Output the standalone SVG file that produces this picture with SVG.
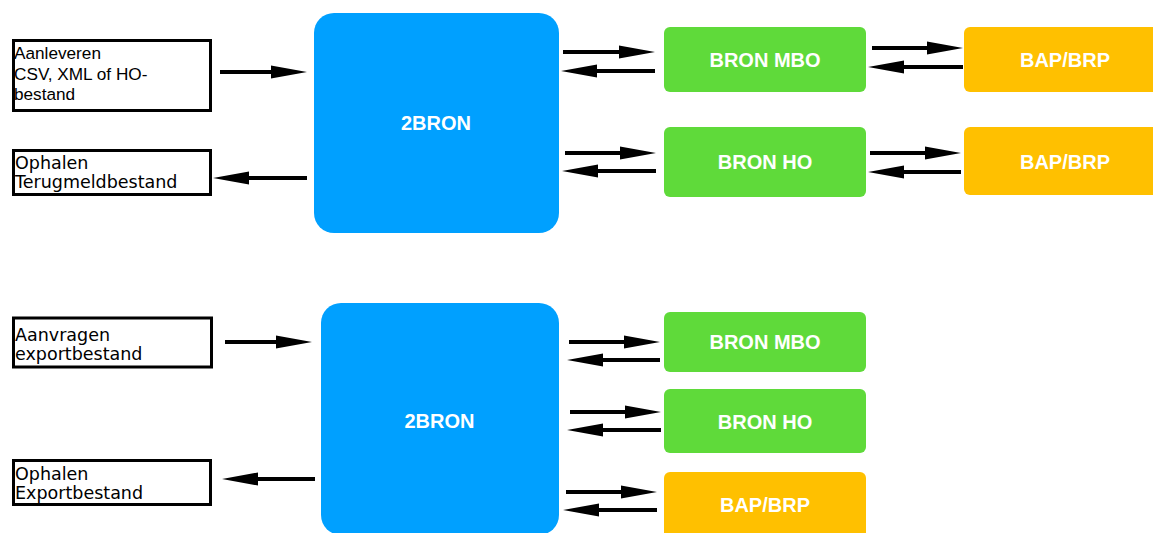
<svg xmlns="http://www.w3.org/2000/svg" width="1153" height="533" viewBox="0 0 1153 533">
  <style>
    .io{fill:#fff;stroke:#000;stroke-width:3}
    .t1{font-family:"Liberation Sans",Arial,sans-serif;font-size:17.2px;fill:#000}
    .t2{font-family:"DejaVu Sans",Verdana,sans-serif;font-size:17.5px;fill:#000}
    .core{fill:#00A0FF}
    .bron{fill:#5FDA3A}
    .bap{fill:#FFC000}
    .lbl{font-family:"Liberation Sans",Arial,sans-serif;font-size:20px;font-weight:bold;fill:#fff;text-anchor:middle}
    .c path{stroke:#000;stroke-width:4;fill:none;marker-end:url(#ah)}
  </style>
  <defs>
    <marker id="ah" markerUnits="userSpaceOnUse" viewBox="0 0 36 14" markerWidth="36" markerHeight="14" refX="2" refY="7" orient="auto">
      <path d="M0,0.5 L36,7 L0,13.5 Z" fill="#000"/>
    </marker>
  </defs>
  <rect width="1153" height="533" fill="#fff"/>

  <g id="aanleveren">
    <rect class="io" x="13.5" y="40.5" width="197" height="70"/>
    <text class="t1" x="14" y="59">Aanleveren</text>
    <text class="t1" x="14" y="80">CSV, XML of HO-</text>
    <text class="t1" x="14" y="100">bestand</text>
  </g>
  <g id="ophalen-terugmeld">
    <rect class="io" x="13.5" y="150.5" width="197" height="44"/>
    <text class="t2" x="15" y="169">Ophalen</text>
    <text class="t2" x="15" y="188">Terugmeldbestand</text>
  </g>
  <g id="twobron-top">
    <rect class="core" x="314" y="13" width="245" height="220" rx="20"/>
    <text class="lbl" x="436" y="130">2BRON</text>
  </g>
  <g id="bron-mbo-top">
    <rect class="bron" x="664" y="27" width="202" height="65" rx="6"/>
    <text class="lbl" x="765" y="66.5">BRON MBO</text>
  </g>
  <g id="bron-ho-top">
    <rect class="bron" x="664" y="127" width="202" height="70" rx="6"/>
    <text class="lbl" x="765" y="169">BRON HO</text>
  </g>
  <g id="bap-1">
    <rect class="bap" x="964" y="27" width="202" height="65" rx="6"/>
    <text class="lbl" x="1065" y="66.5">BAP/BRP</text>
  </g>
  <g id="bap-2">
    <rect class="bap" x="964" y="127" width="202" height="68" rx="6"/>
    <text class="lbl" x="1065" y="168.5">BAP/BRP</text>
  </g>

  <g id="aanvragen">
    <rect class="io" x="13.5" y="318" width="198" height="49"/>
    <text class="t2" x="15" y="340.5">Aanvragen</text>
    <text class="t2" x="15" y="359.5">exportbestand</text>
  </g>
  <g id="ophalen-export">
    <rect class="io" x="13.5" y="460.5" width="197" height="44"/>
    <text class="t2" x="15" y="480">Ophalen</text>
    <text class="t2" x="15" y="498.5">Exportbestand</text>
  </g>
  <g id="twobron-bottom">
    <rect class="core" x="321" y="303" width="238" height="232" rx="20"/>
    <text class="lbl" x="439.5" y="428">2BRON</text>
  </g>
  <g id="bron-mbo-bottom">
    <rect class="bron" x="664" y="312" width="202" height="60" rx="6"/>
    <text class="lbl" x="765" y="349">BRON MBO</text>
  </g>
  <g id="bron-ho-bottom">
    <rect class="bron" x="664" y="389" width="202" height="64" rx="6"/>
    <text class="lbl" x="765" y="429">BRON HO</text>
  </g>
  <g id="bap-3">
    <rect class="bap" x="664" y="472" width="202" height="70" rx="6"/>
    <text class="lbl" x="765" y="511.5">BAP/BRP</text>
  </g>

  <g id="connectors" class="c">
    <path d="M220,72 H273"/>
    <path d="M307,178 H247"/>
    <path d="M563,52 H621"/>
    <path d="M655,71 H595"/>
    <path d="M565,153 H622"/>
    <path d="M656,171 H596"/>
    <path d="M872,48 H929"/>
    <path d="M963,67 H902"/>
    <path d="M870,153 H927"/>
    <path d="M961,172 H902"/>
    <path d="M225,342 H278"/>
    <path d="M315,479 H256"/>
    <path d="M569,342 H626"/>
    <path d="M660,360 H601"/>
    <path d="M570,412 H627"/>
    <path d="M661,430 H601"/>
    <path d="M566,492 H623"/>
    <path d="M657,510 H597"/>
  </g>
</svg>
